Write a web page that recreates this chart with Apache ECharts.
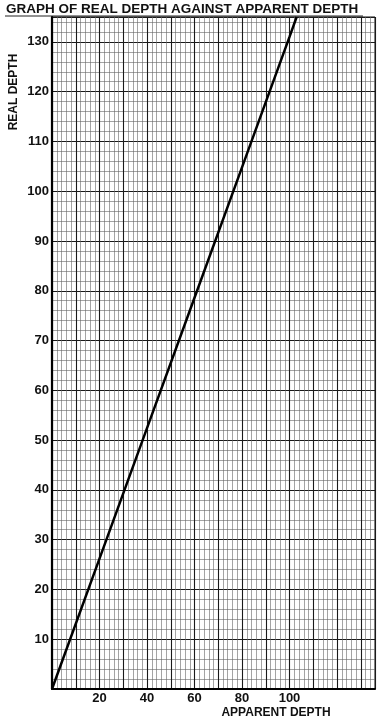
<!DOCTYPE html>
<html>
<head>
<meta charset="utf-8">
<script src="https://cdn.jsdelivr.net/npm/echarts@6/dist/echarts.min.js"></script>
<style>
html,body{margin:0;padding:0;background:#fff;}
#c{width:392px;height:722px;}
</style>
</head>
<body>
<div id="c"></div>
<script>
const titleText = "GRAPH OF REAL DEPTH AGAINST APPARENT DEPTH";
const xName = "APPARENT DEPTH";
const yName = "REAL DEPTH";
const xTickLabels = [20, 40, 60, 80, 100];
const yTickLabels = [10, 20, 30, 40, 50, 60, 70, 80, 90, 100, 110, 120, 130];
const apparentDepth = [0, 20, 40, 60, 80, 100, 103];
const realDepth = [0, 26.2, 52.4, 78.6, 104.8, 131, 135];

const chart = echarts.init(document.getElementById('c'), null, {renderer: 'canvas'});
const font = '"Liberation Sans", Arial, sans-serif';
const majorLine = {show: true, lineStyle: {color: '#1a1a1a', width: 1.1}};
const minorLine = {show: true, lineStyle: {color: '#666', width: 0.6}};

chart.setOption({
  backgroundColor: '#fff',
  animation: false,
  title: {
    text: titleText, left: 6, top: 2, padding: 0,
    textStyle: {fontFamily: font, fontWeight: 'bold', fontSize: 13.5, color: '#111'}
  },
  grid: {left: 52, right: 17, top: 17, bottom: 33},
  xAxis: {
    type: 'value', min: 0, max: 136, interval: 10,
    axisLine: {show: true, lineStyle: {color: '#000', width: 2.2}},
    axisTick: {show: false},
    axisLabel: {
      margin: 3, fontFamily: font, fontWeight: 'bold', fontSize: 13, color: '#111',
      showMinLabel: false,
      formatter: v => xTickLabels.includes(v) ? String(v) : ''
    },
    splitLine: majorLine,
    minorTick: {show: false, splitNumber: 5},
    minorSplitLine: minorLine
  },
  yAxis: {
    type: 'value', min: 0, max: 135, interval: 10,
    axisLine: {show: true, lineStyle: {color: '#000', width: 2.2}},
    axisTick: {show: false},
    axisLabel: {
      margin: 3, fontFamily: font, fontWeight: 'bold', fontSize: 13, color: '#111',
      formatter: v => yTickLabels.includes(v) ? String(v) : ''
    },
    splitLine: majorLine,
    minorTick: {show: false, splitNumber: 5},
    minorSplitLine: minorLine
  },
  graphic: [
    {type: 'line', shape: {x1: 5, y1: 16, x2: 363, y2: 16}, style: {stroke: '#222', lineWidth: 1}},
    {type: 'rect', shape: {x: 52, y: 17, width: 323, height: 672}, style: {fill: 'none', stroke: '#111', lineWidth: 1}, silent: true},
    {type: 'text', x: 14, y: 92, rotation: Math.PI / 2, style: {text: yName, fontFamily: font, fontWeight: 'bold', fontSize: 12, fill: '#111', align: 'center', verticalAlign: 'middle'}},
    {type: 'text', x: 276, y: 713, style: {text: xName, fontFamily: font, fontWeight: 'bold', fontSize: 12, fill: '#111', align: 'center', verticalAlign: 'middle'}}
  ],
  series: [{
    type: 'line',
    data: apparentDepth.map((a, i) => [a, realDepth[i]]),
    showSymbol: false,
    lineStyle: {color: '#000', width: 2.5},
    clip: true
  }]
});
</script>
</body>
</html>
